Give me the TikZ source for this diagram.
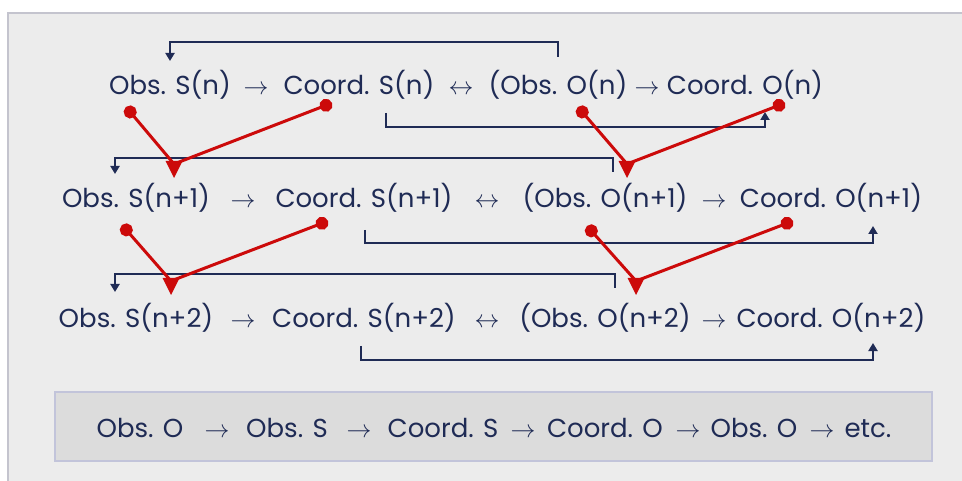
\documentclass[tikz,border=0pt]{standalone}
\usepackage{fontspec}
\setmainfont{Poppins}
\usetikzlibrary{arrows.meta}

\definecolor{navy}{HTML}{1F2B55}
\definecolor{obsred}{HTML}{CC0A0A}
\definecolor{panel}{HTML}{ECECEC}
\definecolor{panelline}{HTML}{C4C4CE}
\definecolor{boxfill}{HTML}{DCDCDC}
\definecolor{boxline}{HTML}{C2C4DA}

\tikzset{
  term/.style={anchor=base,inner sep=0pt,text=navy,font=\fontsize{26}{32}\selectfont},
  sign/.style={term,font=\fontsize{34}{36}\selectfont},
  feed/.style={draw=navy,line width=2pt,-{Triangle[width=9pt,length=8pt]}},
  link/.style={draw=obsred,line width=3pt,{Circle[length=13pt]}-},
}

% red tip pointing down, hanging from a junction point
\newcommand{\vtip}[1]{\fill[obsred] ([shift={(-8.5,-3)}]#1) -- ([shift={(8.5,-3)}]#1) -- ([shift={(0,14)}]#1) -- cycle;}

\begin{document}
\begin{tikzpicture}[x=1pt,y=-1pt]
\useasboundingbox (0,0) rectangle (962,481);
\fill[white] (0,0) rectangle (962,481);
\draw[fill=panel,draw=panelline,line width=1.2pt] (8,13) rectangle (970,490);

% row n
\node[term] (obsS0) at (170,95) {Obs. S(n)};
\node[sign] (arrA0) at (256,95) {$\rightarrow$};
\node[term] (coordS0) at (359,95) {Coord. S(n)};
\node[sign] (dblA0) at (461,95) {$\leftrightarrow$};
\node[term] (obsO0) at (558,95) {(Obs. O(n)};
\node[sign] (arrB0) at (647,95) {$\rightarrow$};
\node[term] (coordO0) at (745,95) {Coord. O(n)};

% row n+1
\node[term] (obsS1) at (136,208) {Obs. S(n+1)};
\node[sign] (arrA1) at (243,208) {$\rightarrow$};
\node[term] (coordS1) at (364,208) {Coord. S(n+1)};
\node[sign] (dblA1) at (487,208) {$\leftrightarrow$};
\node[term] (obsO1) at (605,208) {(Obs. O(n+1)};
\node[sign] (arrB1) at (714,208) {$\rightarrow$};
\node[term] (coordO1) at (831,208) {Coord. O(n+1)};

% row n+2
\node[term] (obsS2) at (136,327) {Obs. S(n+2)};
\node[sign] (arrA2) at (243,327) {$\rightarrow$};
\node[term] (coordS2) at (364,327) {Coord. S(n+2)};
\node[sign] (dblA2) at (487,327) {$\leftrightarrow$};
\node[term] (obsO2) at (605,327) {(Obs. O(n+2)};
\node[sign] (arrB2) at (714,327) {$\rightarrow$};
\node[term] (coordO2) at (831,327) {Coord. O(n+2)};

% feedback lines
\coordinate (f1a) at (558,57);  \coordinate (f1b) at (170,61);
\coordinate (f2a) at (386,113); \coordinate (f2b) at (765,112);
\coordinate (f3a) at (613,172); \coordinate (f3b) at (115,174);
\coordinate (f4a) at (365,230); \coordinate (f4b) at (873,226);
\coordinate (f5a) at (615,288); \coordinate (f5b) at (115,292);
\coordinate (f6a) at (361,346); \coordinate (f6b) at (873,343);
\draw[feed] (f1a) -- ++(0,-15) -| (f1b);
\draw[feed] (f2a) -- ++(0,14) -| (f2b);
\draw[feed] (f3a) -- ++(0,-14) -| (f3b);
\draw[feed] (f4a) -- ++(0,13) -| (f4b);
\draw[feed] (f5a) -- ++(0,-14) -| (f5b);
\draw[feed] (f6a) -- ++(0,14) -| (f6b);

% red links between rows
\coordinate (dA1) at (126,107); \coordinate (dA2) at (332,103); \coordinate (vA) at (174,164);
\coordinate (dB1) at (578,107); \coordinate (dB2) at (785,103); \coordinate (vB) at (627,164);
\coordinate (dC1) at (122,225); \coordinate (dC2) at (328,221); \coordinate (vC) at (171,281);
\coordinate (dD1) at (587,226); \coordinate (dD2) at (793,221); \coordinate (vD) at (636,281);
\foreach \v in {A,B,C,D}{
  \draw[link] (d\v1) -- (v\v);
  \draw[link] (d\v2) -- (v\v);
  \vtip{v\v}
}

% summary box
\draw[fill=boxfill,draw=boxline,line width=1.2pt] (55,392) rectangle (932,461);
\node[term] (sumO) at (140,437) {Obs. O};
\node[sign] (sumA1) at (217,437) {$\rightarrow$};
\node[term] (sumS) at (287,437) {Obs. S};
\node[sign] (sumA2) at (359,437) {$\rightarrow$};
\node[term] (sumCS) at (443,437) {Coord. S};
\node[sign] (sumA3) at (523,437) {$\rightarrow$};
\node[term] (sumCO) at (605,437) {Coord. O};
\node[sign] (sumA4) at (688,437) {$\rightarrow$};
\node[term] (sumO2) at (754,437) {Obs. O};
\node[sign] (sumA5) at (822,437) {$\rightarrow$};
\node[term] (sumEtc) at (868,437) {etc.};
\end{tikzpicture}
\end{document}
